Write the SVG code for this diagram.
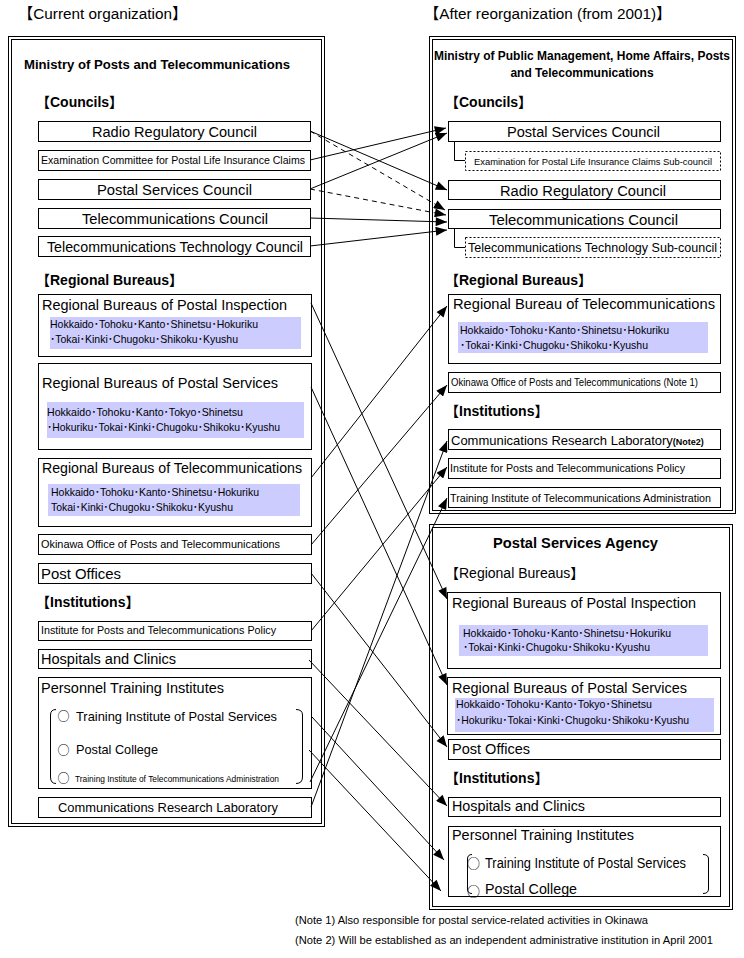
<svg xmlns="http://www.w3.org/2000/svg" width="744" height="958" viewBox="0 0 744 958">
<style>
text{font-family:'Liberation Sans','Noto Sans CJK JP',sans-serif;fill:#000}
.cjk{font-family:'Noto Sans CJK JP',sans-serif}
.b{fill:#fff;stroke:#000;stroke-width:1}
.d{fill:#fff;stroke:#000;stroke-width:1;stroke-dasharray:2,2}
.frame{fill:none;stroke:#000;stroke-width:1}
.blue{fill:#ccccff;stroke:none}
.t14{font-size:14px}
.t13{font-size:13px}
.t11{font-size:11px}
.t10{font-size:10px}
.hd{font-size:14px;font-weight:bold}
.ttl{font-size:13px;font-weight:bold}
.c{text-anchor:middle}
.ln{fill:none;stroke:#000;stroke-width:1}
.ar{marker-end:url(#arr)}
.dash{stroke-dasharray:5,4}
</style>
<defs>
<marker id="arr" viewBox="0 0 10 8" refX="10" refY="4" markerWidth="12" markerHeight="9" markerUnits="userSpaceOnUse" orient="auto">
<path d="M0,0 L10,4 L0,8 z" fill="#000"/>
</marker>
</defs>
<rect width="744" height="958" fill="#fff"/>

<g id="headers">
<text x="18" y="19" style="font-size:15.3px">【Current organization】</text>
<text x="424" y="19" style="font-size:15.3px">【After reorganization (from 2001)】</text>
</g>

<g id="left-ministry">
<rect class="frame" x="8.5" y="36.5" width="316" height="790"/>
<rect class="frame" x="11.5" y="39.5" width="310" height="784"/>
<text x="24" y="69" class="ttl" textLength="266" lengthAdjust="spacingAndGlyphs">Ministry of Posts and Telecommunications</text>
<text x="36" y="107" class="hd">【Councils】</text>
<text x="36" y="285" class="hd">【Regional Bureaus】</text>
<text x="36" y="607" class="hd">【Institutions】</text>
</g>

<g id="L-radio"><rect class="b" x="38.5" y="121.5" width="272" height="20"/><text x="174.5" y="137" class="t14 c" textLength="165" lengthAdjust="spacingAndGlyphs">Radio Regulatory Council</text></g>
<g id="L-exam"><rect class="b" x="38.5" y="150.5" width="272" height="20"/><text x="41" y="164" class="t10" textLength="264" lengthAdjust="spacingAndGlyphs">Examination Committee for Postal Life Insurance Claims</text></g>
<g id="L-postal"><rect class="b" x="38.5" y="179.5" width="272" height="20"/><text x="174.5" y="195" class="t14 c" textLength="155" lengthAdjust="spacingAndGlyphs">Postal Services Council</text></g>
<g id="L-telecom"><rect class="b" x="38.5" y="208.5" width="272" height="20"/><text x="175" y="224" class="t14 c" textLength="186" lengthAdjust="spacingAndGlyphs">Telecommunications Council</text></g>
<g id="L-tech"><rect class="b" x="38.5" y="236.5" width="272" height="20"/><text x="175" y="252" class="t14 c" textLength="256" lengthAdjust="spacingAndGlyphs">Telecommunications Technology Council</text></g>

<g id="L-inspection"><rect class="b" x="38.5" y="294.5" width="273" height="62"/><text x="42" y="310" class="t14" textLength="245" lengthAdjust="spacingAndGlyphs">Regional Bureaus of Postal Inspection</text>
<rect class="blue" x="50" y="317" width="251" height="32"/>
<text x="50" y="328" class="t11" textLength="208" lengthAdjust="spacingAndGlyphs">Hokkaido･Tohoku･Kanto･Shinetsu･Hokuriku</text>
<text x="50" y="343" class="t11" textLength="188" lengthAdjust="spacingAndGlyphs">･Tokai･Kinki･Chugoku･Shikoku･Kyushu</text></g>

<g id="L-postalbureaus"><rect class="b" x="38.5" y="363.5" width="273" height="86"/><text x="42" y="388" class="t14" textLength="236" lengthAdjust="spacingAndGlyphs">Regional Bureaus of Postal Services</text>
<rect class="blue" x="47" y="402" width="257" height="36"/>
<text x="47" y="416" class="t11" textLength="196" lengthAdjust="spacingAndGlyphs">Hokkaido･Tohoku･Kanto･Tokyo･Shinetsu</text>
<text x="47" y="431" class="t11" textLength="233" lengthAdjust="spacingAndGlyphs">･Hokuriku･Tokai･Kinki･Chugoku･Shikoku･Kyushu</text></g>

<g id="L-telebureaus"><rect class="b" x="38.5" y="458.5" width="273" height="68"/><text x="42" y="473" class="t14" textLength="260" lengthAdjust="spacingAndGlyphs">Regional Bureaus of Telecommunications</text>
<rect class="blue" x="48" y="484" width="252" height="32"/>
<text x="51" y="496" class="t11" textLength="208" lengthAdjust="spacingAndGlyphs">Hokkaido･Tohoku･Kanto･Shinetsu･Hokuriku</text>
<text x="51" y="511" class="t11" textLength="182" lengthAdjust="spacingAndGlyphs">Tokai･Kinki･Chugoku･Shikoku･Kyushu</text></g>

<g id="L-okinawa"><rect class="b" x="38.5" y="534.5" width="273" height="20"/><text x="41" y="548" class="t11" textLength="239" lengthAdjust="spacingAndGlyphs">Okinawa Office of Posts and Telecommunications</text></g>
<g id="L-postoffices"><rect class="b" x="38.5" y="563.5" width="273" height="20"/><text x="41" y="579" class="t14" textLength="80" lengthAdjust="spacingAndGlyphs">Post Offices</text></g>
<g id="L-policy"><rect class="b" x="38.5" y="621.5" width="273" height="19"/><text x="41" y="634" class="t11" textLength="235" lengthAdjust="spacingAndGlyphs">Institute for Posts and Telecommunications Policy</text></g>
<g id="L-hospitals"><rect class="b" x="38.5" y="649.5" width="273" height="19"/><text x="41" y="664" class="t14" textLength="135" lengthAdjust="spacingAndGlyphs">Hospitals and Clinics</text></g>
<g id="L-training"><rect class="b" x="38.5" y="677.5" width="273" height="111"/><text x="41" y="693" class="t14" textLength="183" lengthAdjust="spacingAndGlyphs">Personnel Training Institutes</text>
<path class="ln" d="M56,709.5 Q50.5,709.5 50.5,715 L50.5,777 Q50.5,783.5 56,783.5"/>
<path class="ln" d="M296,709.5 Q302.5,709.5 302.5,715 L302.5,777 Q302.5,783.5 296,783.5"/>
<text x="57.5" y="721" class="cjk" style="font-size:12px">○</text>
<text x="76" y="721" class="t13" textLength="201" lengthAdjust="spacingAndGlyphs">Training Institute of Postal Services</text>
<text x="57.5" y="755" class="cjk" style="font-size:12px">○</text>
<text x="76" y="754" class="t13" textLength="82" lengthAdjust="spacingAndGlyphs">Postal College</text>
<text x="57.5" y="783" class="cjk" style="font-size:12px">○</text>
<text x="75" y="782" style="font-size:9px" textLength="204" lengthAdjust="spacingAndGlyphs">Training Institute of Telecommunications Administration</text></g>
<g id="L-crl"><rect class="b" x="38.5" y="797.5" width="273" height="20"/><text x="58" y="812" class="t13" textLength="220" lengthAdjust="spacingAndGlyphs">Communications Research Laboratory</text></g>

<g id="right-ministry">
<rect class="frame" x="429.5" y="36.5" width="306" height="477"/>
<rect class="frame" x="432.5" y="39.5" width="300" height="471"/>
<text x="582" y="60" class="c" style="font-size:12px;font-weight:bold" textLength="296" lengthAdjust="spacingAndGlyphs">Ministry of Public Management, Home Affairs, Posts</text>
<text x="582" y="77" class="c" style="font-size:12px;font-weight:bold">and Telecommunications</text>
<text x="445" y="107" class="hd">【Councils】</text>
<text x="445" y="285" class="hd">【Regional Bureaus】</text>
<text x="445" y="416" class="hd">【Institutions】</text>
<path class="ln" d="M454.5,141 L454.5,160.5 L465,160.5"/>
<path class="ln" d="M454.5,228 L454.5,247.5 L465,247.5"/>
</g>

<g id="R-postal"><rect class="b" x="448.5" y="121.5" width="272" height="20"/><text x="583.5" y="137" class="t14 c" textLength="153" lengthAdjust="spacingAndGlyphs">Postal Services Council</text></g>
<g id="R-exam"><rect class="d" x="465.5" y="151.5" width="255" height="19"/><text x="474" y="165" style="font-size:9.5px" textLength="238" lengthAdjust="spacingAndGlyphs">Examination for Postal Life Insurance Claims Sub-council</text></g>
<g id="R-radio"><rect class="b" x="448.5" y="180.5" width="272" height="19"/><text x="583" y="196" class="t14 c" textLength="166" lengthAdjust="spacingAndGlyphs">Radio Regulatory Council</text></g>
<g id="R-telecom"><rect class="b" x="448.5" y="209.5" width="272" height="19"/><text x="583.5" y="225" class="t14 c" textLength="189" lengthAdjust="spacingAndGlyphs">Telecommunications Council</text></g>
<g id="R-tech"><rect class="d" x="465.5" y="237.5" width="255" height="20"/><text x="468" y="252" style="font-size:12px" textLength="249" lengthAdjust="spacingAndGlyphs">Telecommunications Technology Sub-council</text></g>

<g id="R-telebureau"><rect class="b" x="448.5" y="294.5" width="272" height="69"/><text x="453" y="309" class="t14" textLength="262" lengthAdjust="spacingAndGlyphs">Regional Bureau of Telecommunications</text>
<rect class="blue" x="458" y="322" width="250" height="31"/>
<text x="460" y="334" class="t11" textLength="209" lengthAdjust="spacingAndGlyphs">Hokkaido･Tohoku･Kanto･Shinetsu･Hokuriku</text>
<text x="460" y="349" class="t11" textLength="188" lengthAdjust="spacingAndGlyphs">･Tokai･Kinki･Chugoku･Shikoku･Kyushu</text></g>
<g id="R-okinawa"><rect class="b" x="448.5" y="372.5" width="272" height="20"/><text x="451" y="386" class="t10" textLength="247" lengthAdjust="spacingAndGlyphs">Okinawa Office of Posts and Telecommunications (Note 1)</text></g>
<g id="R-crl"><rect class="b" x="448.5" y="429.5" width="272" height="20"/><text x="451" y="445" class="t13">Communications Research Laboratory<tspan style="font-size:9px;font-weight:bold">(Note2)</tspan></text></g>
<g id="R-policy"><rect class="b" x="448.5" y="458.5" width="272" height="20"/><text x="450" y="472" class="t11" textLength="235" lengthAdjust="spacingAndGlyphs">Institute for Posts and Telecommunications Policy</text></g>
<g id="R-tita"><rect class="b" x="448.5" y="487.5" width="272" height="20"/><text x="450" y="502" class="t11" textLength="261" lengthAdjust="spacingAndGlyphs">Training Institute of Telecommunications Administration</text></g>

<g id="postal-agency">
<rect class="frame" x="429.5" y="524.5" width="303" height="385"/>
<rect class="frame" x="432.5" y="527.5" width="297" height="379"/>
<text x="575.5" y="548" class="c" style="font-size:14.5px;font-weight:bold" textLength="165" lengthAdjust="spacingAndGlyphs">Postal Services Agency</text>
<text x="445" y="578" class="t14">【Regional Bureaus】</text>
<text x="445" y="783" class="hd">【Institutions】</text>
</g>
<g id="A-inspection"><rect class="b" x="447.5" y="592.5" width="273" height="76"/><text x="452" y="608" class="t14" textLength="244" lengthAdjust="spacingAndGlyphs">Regional Bureaus of Postal Inspection</text>
<rect class="blue" x="459" y="625" width="249" height="31"/>
<text x="463" y="637" class="t11" textLength="208" lengthAdjust="spacingAndGlyphs">Hokkaido･Tohoku･Kanto･Shinetsu･Hokuriku</text>
<text x="463" y="651" class="t11" textLength="187" lengthAdjust="spacingAndGlyphs">･Tokai･Kinki･Chugoku･Shikoku･Kyushu</text></g>
<g id="A-postal"><rect class="b" x="447.5" y="677.5" width="273" height="57"/><text x="452" y="693" class="t14" textLength="235" lengthAdjust="spacingAndGlyphs">Regional Bureaus of Postal Services</text>
<rect class="blue" x="455" y="698" width="259" height="34"/>
<text x="456" y="708" class="t11" textLength="196" lengthAdjust="spacingAndGlyphs">Hokkaido･Tohoku･Kanto･Tokyo･Shinetsu</text>
<text x="456" y="724" class="t11" textLength="233" lengthAdjust="spacingAndGlyphs">･Hokuriku･Tokai･Kinki･Chugoku･Shikoku･Kyushu</text></g>
<g id="A-postoffices"><rect class="b" x="448.5" y="739.5" width="272" height="20"/><text x="452" y="754" class="t14" textLength="78" lengthAdjust="spacingAndGlyphs">Post Offices</text></g>
<g id="A-hospitals"><rect class="b" x="448.5" y="797.5" width="272" height="19"/><text x="452" y="811" class="t14" textLength="133" lengthAdjust="spacingAndGlyphs">Hospitals and Clinics</text></g>
<g id="A-training"><rect class="b" x="448.5" y="826.5" width="272" height="70"/><text x="452" y="840" class="t14" textLength="182" lengthAdjust="spacingAndGlyphs">Personnel Training Institutes</text>
<path class="ln" d="M472,854.5 Q467.5,854.5 467.5,859 L467.5,889 Q467.5,893.5 472,893.5"/>
<path class="ln" d="M703,854.5 Q708.5,854.5 708.5,859 L708.5,889 Q708.5,893.5 703,893.5"/>
<text x="467" y="868" class="cjk" style="font-size:13px">○</text>
<text x="485" y="868" class="t14" textLength="201" lengthAdjust="spacingAndGlyphs">Training Institute of Postal Services</text>
<text x="467" y="896" class="cjk" style="font-size:13px">○</text>
<text x="485" y="894" class="t14" textLength="92" lengthAdjust="spacingAndGlyphs">Postal College</text></g>

<g id="notes">
<text x="295" y="924" class="t10" textLength="353" lengthAdjust="spacingAndGlyphs">(Note 1) Also responsible for postal service-related activities in Okinawa</text>
<text x="295" y="944" class="t10" textLength="418" lengthAdjust="spacingAndGlyphs">(Note 2) Will be established as an independent administrative institution in April 2001</text>
</g>

<g id="connectors">
<line class="ln ar" x1="310" y1="131" x2="447" y2="190"/>
<line class="ln ar dash" x1="310" y1="131" x2="445" y2="210"/>
<line class="ln ar" x1="310" y1="160" x2="446" y2="128"/>
<line class="ln ar" x1="310" y1="189" x2="447" y2="133"/>
<line class="ln ar dash" x1="310" y1="189" x2="446" y2="215"/>
<line class="ln ar" x1="310" y1="218" x2="447" y2="222"/>
<line class="ln ar" x1="310" y1="246" x2="447" y2="230"/>
<line class="ln ar" x1="311" y1="303" x2="447" y2="599"/>
<line class="ln ar" x1="311" y1="387" x2="447" y2="685"/>
<line class="ln ar" x1="311" y1="478" x2="447" y2="306"/>
<line class="ln ar" x1="311" y1="545" x2="447" y2="385"/>
<line class="ln ar" x1="311" y1="573" x2="447" y2="747"/>
<line class="ln ar" x1="311" y1="631" x2="447" y2="467"/>
<line class="ln ar" x1="309" y1="660" x2="447" y2="806"/>
<line class="ln ar" x1="312" y1="717" x2="444" y2="860"/>
<line class="ln ar" x1="309" y1="750" x2="441" y2="891"/>
<line class="ln ar" x1="310" y1="782" x2="447" y2="498"/>
<line class="ln ar" x1="311" y1="807" x2="447" y2="441"/>
</g>
</svg>
